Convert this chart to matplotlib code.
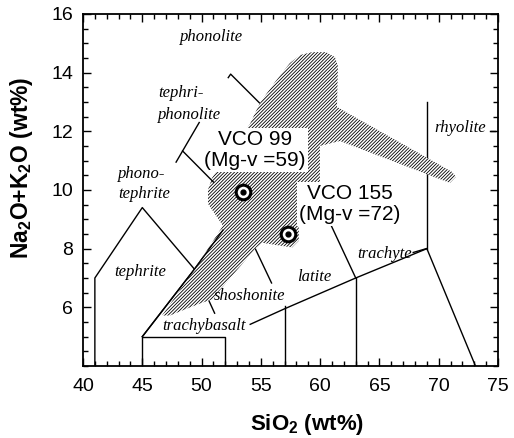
import numpy as np
import matplotlib.pyplot as plt
from matplotlib.patches import Polygon
from matplotlib.ticker import MultipleLocator

plt.rcParams['font.family'] = 'Liberation Sans'
plt.rcParams['mathtext.fontset'] = 'custom'
plt.rcParams['mathtext.bf'] = 'Liberation Sans:bold'
plt.rcParams['mathtext.default'] = 'bf'
plt.rcParams['hatch.linewidth'] = 0.6

# TAS field boundaries (SiO2 wt%, Na2O+K2O wt%), as drawn in the figure
boundaries = {
    'tephrite':      ([41, 41, 45, 49.4], [4, 7, 9.4, 7.3]),
    'basalt':        ([45, 45, 52, 52], [4, 5, 5, 4]),
    'tb_left':       ([45, 49.4, 51.8], [5, 7.3, 8.63]),
    'tp_main':       ([47.85, 49.8], [10.95, 12.3]),
    'phonolite':     ([52.25, 52.45, 55.3], [13.83, 13.95, 12.8]),
    'bta_ta':        ([53.0, 55.9], [9.3, 6.83]),
    'tb_bta':        ([49.4, 51.1], [7.3, 5.8]),
    'trachy_base':   ([54.1, 57, 63, 69], [5.42, 5.95, 7.0, 8.0]),
    'x57':           ([57, 57], [4, 6.05]),
    'x63':           ([63, 63], [4, 7]),
    'latite':        ([59.3, 63], [10.2, 7.0]),
    'rhyolite':      ([69, 69], [8, 13]),
    'dacite':        ([69, 73.1], [8, 4]),
    'trachyte_lead': ([67.85, 68.95], [7.87, 8.0]),
    'rhyolite_lead': ([74.3, 74.75], [12.0, 12.0]),
}
# leader drawn over the VCO 99 label box
tp_branch_x = [48.4, 51.0]
tp_branch_y = [11.33, 10.27]

# outline of the hatched field of the volcanic rocks
field_x = [46.66, 49.27, 51.80, 50.54, 50.54, 50.88, 52.39, 54.08, 54.92, 56.19,
           57.45, 58.30, 59.31, 60.49, 61.25, 61.50, 61.42, 71.11, 71.45, 70.94,
           61.67, 59.98, 59.98, 58.20, 58.20, 57.63, 55.09, 54.59, 50.88, 49.87,
           48.60, 47.34]
field_y = [5.72, 7.22, 8.78, 9.53, 10.01, 10.41, 11.37, 12.25, 12.97, 13.68,
           14.33, 14.60, 14.70, 14.70, 14.53, 14.22, 12.83, 10.62, 10.45, 10.24,
           11.67, 11.50, 10.00, 9.15, 8.27, 8.04, 8.20, 8.03, 6.27, 6.13,
           5.93, 5.72]

# samples
sample_names = ['VCO 99', 'VCO 155']
sample_sio2 = [53.49, 57.28]
sample_alk = [9.94, 8.51]
sample_mgv = [59, 72]
label_x = [54.5, 62.5]
label_y = [11.36, 9.53]

# field names
field_names = ['phonolite', 'tephri-', 'phonolite', 'phono-', 'tephrite', 'tephrite',
               'shoshonite', 'trachybasalt', 'latite', 'trachyte', 'rhyolite']
name_x = [50.88, 46.32, 46.32, 42.95, 42.95, 44.85, 54.08, 50.2, 59.52, 65.46, 71.83]
name_y = [15.21, 13.31, 12.56, 10.55, 9.88, 7.22, 6.37, 5.35, 7.05, 7.83, 12.12]
name_ha = ['center', 'left', 'left', 'left', 'left', 'center', 'center', 'center',
           'center', 'center', 'center']

fig = plt.figure(figsize=(5.14, 4.38), dpi=100)
ax = fig.add_axes([0.1615, 0.1644, 0.8074, 0.8037])

for key, (xs, ys) in boundaries.items():
    ax.plot(xs, ys, color='k', lw=1.0, zorder=1)

ax.add_patch(Polygon(np.column_stack([field_x, field_y]), closed=True,
                     facecolor='white', edgecolor='k', lw=0, hatch='//////////', zorder=2))
ax.plot(boundaries['tb_left'][0], boundaries['tb_left'][1], color='k', lw=1.0, zorder=3)

for i in range(len(sample_names)):
    ax.text(label_x[i], label_y[i], '%s\n(Mg-v =%d)' % (sample_names[i], sample_mgv[i]),
            fontsize=15, ha='center', va='center', linespacing=1.15, zorder=3,
            bbox=dict(facecolor='white', edgecolor='none', pad=1.5))
ax.plot(tp_branch_x, tp_branch_y, color='k', lw=1.0, zorder=4)

ax.plot(sample_sio2, sample_alk, 'o', ms=10.5, mfc='white', mec='k', mew=2.2, zorder=5)
ax.plot(sample_sio2, sample_alk, 'o', ms=3.5, color='k', zorder=6)

for i, name in enumerate(field_names):
    ax.text(name_x[i], name_y[i], name, fontsize=12, fontfamily='Liberation Serif',
            style='italic', ha=name_ha[i], va='center', zorder=4)

ax.set_xlim(40, 75)
ax.set_ylim(4, 16)
ax.set_xticks(np.arange(40, 76, 5))
ax.set_yticks(np.arange(6, 17, 2))
ax.xaxis.set_minor_locator(MultipleLocator(1))
ax.yaxis.set_minor_locator(MultipleLocator(0.5))
ax.tick_params(which='both', direction='in', top=True, right=True, width=1.0)
ax.tick_params(which='major', length=6, labelsize=14)
ax.tick_params(which='minor', length=3.5)
ax.tick_params(axis='x', pad=9)
ax.tick_params(axis='y', pad=7)
for s in ax.spines.values():
    s.set_linewidth(1.3)

ax.set_xlabel('SiO$_2$ (wt%)', fontsize=16, fontweight='bold')
ax.set_ylabel('Na$_2$O+K$_2$O (wt%)', fontsize=16.5, fontweight='bold')
ax.xaxis.set_label_coords(0.541, -0.13)
ax.yaxis.set_label_coords(-0.116, 0.5625)

fig.savefig('out.png', dpi=100)
